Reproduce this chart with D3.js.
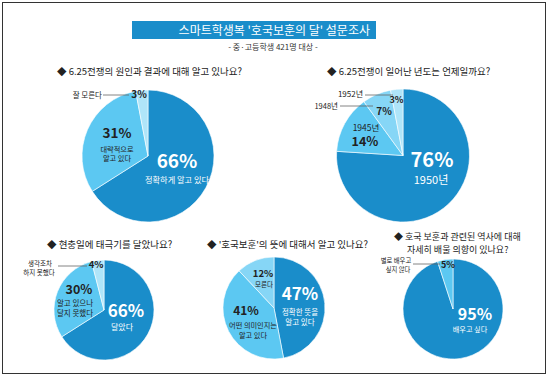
<!DOCTYPE html>
<html>
<head>
<meta charset="utf-8">
<script src="https://cdn.jsdelivr.net/npm/d3@7"></script>
<style>
  body { margin: 0; background: #fff; }
  svg { display: block; font-family: "Noto Sans CJK KR", "Noto Sans", sans-serif; }
</style>
</head>
<body>
<div id="chart"></div>
<script>
// 스마트학생복 '호국보훈의 달' 설문조사 - 파이 5개

const mainTitle = "스마트학생복 '호국보훈의 달' 설문조사";
const subTitle = "- 중·고등학생 421명 대상 -";

// 질문 1
const q1Title = ["◆ 6.25전쟁의 원인과 결과에 대해 알고 있나요?"];
const q1Labels = ["정확하게 알고 있다", "대략적으로 알고 있다", "잘 모른다"];
const q1Values = [66, 31, 3];

// 질문 2
const q2Title = ["◆ 6.25전쟁이 일어난 년도는 언제일까요?"];
const q2Labels = ["1950년", "1945년", "1948년", "1952년"];
const q2Values = [76, 14, 7, 3];

// 질문 3
const q3Title = ["◆ 현충일에 태극기를 달았나요?"];
const q3Labels = ["달았다", "알고 있으나 달지 못했다", "생각조차 하지 못했다"];
const q3Values = [66, 30, 4];

// 질문 4
const q4Title = ["◆ '호국보훈'의 뜻에 대해서 알고 있나요?"];
const q4Labels = ["정확한 뜻을 알고 있다", "어떤 의미인지는 알고 있다", "모른다"];
const q4Values = [47, 41, 12];

// 질문 5
const q5Title = ["◆ 호국 보훈과 관련된 역사에 대해", "자세히 배울 의향이 있나요?"];
const q5Labels = ["배우고 싶다", "별로 배우고 싶지 않다"];
const q5Values = [95, 5];

const W = 550, H = 377;
const DARK = "#1a8dca", LIGHT = "#5cc8f2", LIGHTER = "#86d6f6", LIGHTEST = "#afe5f9";
const INK = "#222";

const pct = v => v + "%";

const svg = d3.select("#chart").append("svg")
  .attr("width", W)
  .attr("height", H);

// 테두리
svg.append("rect")
  .attr("x", 2.5).attr("y", 2.5)
  .attr("width", 543).attr("height", 371)
  .attr("fill", "none")
  .attr("stroke", "#333")
  .attr("stroke-width", 1);

// 제목 바
svg.append("rect")
  .attr("x", 132).attr("y", 21)
  .attr("width", 244).attr("height", 18)
  .attr("fill", DARK);

svg.append("text")
  .attr("x", 370).attr("y", 35)
  .attr("text-anchor", "end")
  .attr("fill", "#fff")
  .style("font-size", "12px")
  .text(mainTitle);

svg.append("text")
  .attr("x", 273).attr("y", 50)
  .attr("text-anchor", "middle")
  .attr("fill", "#333")
  .style("font-size", "8px")
  .text(subTitle);

// 레이아웃 (위치, 크기, 색상)
const layouts = [
  {
    values: q1Values, title: q1Title, titleSize: 9.5,
    cx: 148, cy: 156, r: 66, titleX: 57, titleY: 75,
    colors: [DARK, LIGHT, LIGHTEST],
    texts: [
      { t: pct(q1Values[0]), dx: 29, dy: 12, size: 19, bold: true, fill: "#fff" },
      { t: q1Labels[0], dx: 29, dy: 27, size: 8.2, fill: "#fff" },
      { t: pct(q1Values[1]), dx: -31, dy: -18.5, size: 13.5, bold: true },
      { t: "대략적으로", dx: -31, dy: -4.5, size: 7.2 },
      { t: "알고 있다", dx: -31, dy: 5, size: 7.2 },
      { t: pct(q1Values[2]), dx: -9, dy: -58, size: 10, bold: true },
      { t: q1Labels[2], dx: -46, dy: -58, size: 7.5, anchor: "end" }
    ],
    leaders: [[-45, -61, -19, -61]]
  },
  {
    values: q2Values, title: q2Title, titleSize: 9.5,
    cx: 403, cy: 155.5, r: 66.5, titleX: 327, titleY: 75,
    colors: [DARK, LIGHT, LIGHTER, LIGHTEST],
    texts: [
      { t: pct(q2Values[0]), dx: 29, dy: 11, size: 20, bold: true, fill: "#fff" },
      { t: q2Labels[0], dx: 28, dy: 28.5, size: 11, fill: "#fff" },
      { t: q2Labels[1], dx: -37, dy: -25, size: 8.5 },
      { t: pct(q2Values[1]), dx: -38, dy: -9.5, size: 12.5, bold: true },
      { t: pct(q2Values[2]), dx: -19, dy: -40.5, size: 10, bold: true },
      { t: q2Labels[2], dx: -65, dy: -46.5, size: 7.5, anchor: "end" },
      { t: pct(q2Values[3]), dx: -6.5, dy: -52.5, size: 9, bold: true },
      { t: q2Labels[3], dx: -40, dy: -58.5, size: 8, anchor: "end" }
    ],
    leaders: [[-63, -49.5, -30, -49.5], [-38, -60.5, -10, -60.5]]
  },
  {
    values: q3Values, title: q3Title, titleSize: 9.5,
    cx: 104, cy: 310, r: 50, titleX: 47, titleY: 248,
    colors: [DARK, LIGHT, LIGHTEST],
    texts: [
      { t: pct(q3Values[0]), dx: 22, dy: 7, size: 17, bold: true, fill: "#fff" },
      { t: q3Labels[0], dx: 18, dy: 20, size: 8, fill: "#fff" },
      { t: pct(q3Values[1]), dx: -25, dy: -16.5, size: 12.5, bold: true },
      { t: "알고 있으나", dx: -29, dy: -4.5, size: 7.5 },
      { t: "달지 못했다", dx: -29, dy: 5.5, size: 7.5 },
      { t: pct(q3Values[2]), dx: -8, dy: -42, size: 9.5, bold: true },
      { t: "생각조차", dx: -64, dy: -44, size: 6.5 },
      { t: "하지 못했다", dx: -65, dy: -35.5, size: 6.5 }
    ],
    leaders: [[-46, -44, -17, -44]]
  },
  {
    values: q4Values, title: q4Title, titleSize: 9.5,
    cx: 274, cy: 308, r: 51, titleX: 207, titleY: 248,
    colors: [DARK, LIGHT, LIGHTER],
    texts: [
      { t: pct(q4Values[0]), dx: 26, dy: -8, size: 17, bold: true, fill: "#fff" },
      { t: "정확한 뜻을", dx: 26, dy: 7, size: 7.5, fill: "#fff" },
      { t: "알고 있다", dx: 26, dy: 17, size: 7.5, fill: "#fff" },
      { t: pct(q4Values[2]), dx: -11, dy: -31, size: 9.5, bold: true },
      { t: q4Labels[2], dx: -10, dy: -21.5, size: 6.5 },
      { t: pct(q4Values[1]), dx: -28, dy: 7, size: 12, bold: true },
      { t: "어떤 의미인지는", dx: -21, dy: 20, size: 7.2 },
      { t: "알고 있다", dx: -21, dy: 30, size: 7.2 }
    ],
    leaders: []
  },
  {
    values: q5Values, title: q5Title, titleSize: 9,
    cx: 453, cy: 309, r: 50, titleX: 394, titleY: 240,
    colors: [DARK, LIGHT],
    texts: [
      { t: pct(q5Values[0]), dx: 22, dy: 11, size: 16, bold: true, fill: "#fff" },
      { t: q5Labels[0], dx: 17, dy: 23, size: 7.2, fill: "#fff" },
      { t: pct(q5Values[1]), dx: -5, dy: -41, size: 9, bold: true },
      { t: "별로 배우고", dx: -57, dy: -46, size: 6.3 },
      { t: "싶지 않다", dx: -55, dy: -37, size: 6.3 }
    ],
    leaders: [[-40, -45, -13, -45]]
  }
];

const pie = d3.pie().sort(null).value(d => d);

layouts.forEach(L => {
  // 질문 제목
  L.title.forEach((line, i) => {
    svg.append("text")
      .attr("x", i === 0 ? L.titleX : L.titleX + 13)
      .attr("y", L.titleY + i * 12.5)
      .attr("fill", INK)
      .style("font-size", L.titleSize + "px")
      .text(line);
  });

  const g = svg.append("g").attr("transform", `translate(${L.cx},${L.cy})`);
  const arc = d3.arc().innerRadius(0).outerRadius(L.r);

  g.selectAll("path")
    .data(pie(L.values))
    .enter().append("path")
    .attr("d", arc)
    .attr("fill", (d, i) => L.colors[i])
    .attr("stroke", "#fff")
    .attr("stroke-width", 0.6);

  // 지시선
  L.leaders.forEach(l => {
    g.append("line")
      .attr("x1", l[0]).attr("y1", l[1])
      .attr("x2", l[2]).attr("y2", l[3])
      .attr("stroke", "#666")
      .attr("stroke-width", 0.8);
  });

  // 라벨
  L.texts.forEach(t => {
    g.append("text")
      .attr("x", t.dx).attr("y", t.dy)
      .attr("text-anchor", t.anchor || "middle")
      .attr("fill", t.fill || INK)
      .style("font-size", t.size + "px")
      .style("font-weight", t.bold ? "700" : "400")
      .text(t.t);
  });
});
</script>
</body>
</html>
